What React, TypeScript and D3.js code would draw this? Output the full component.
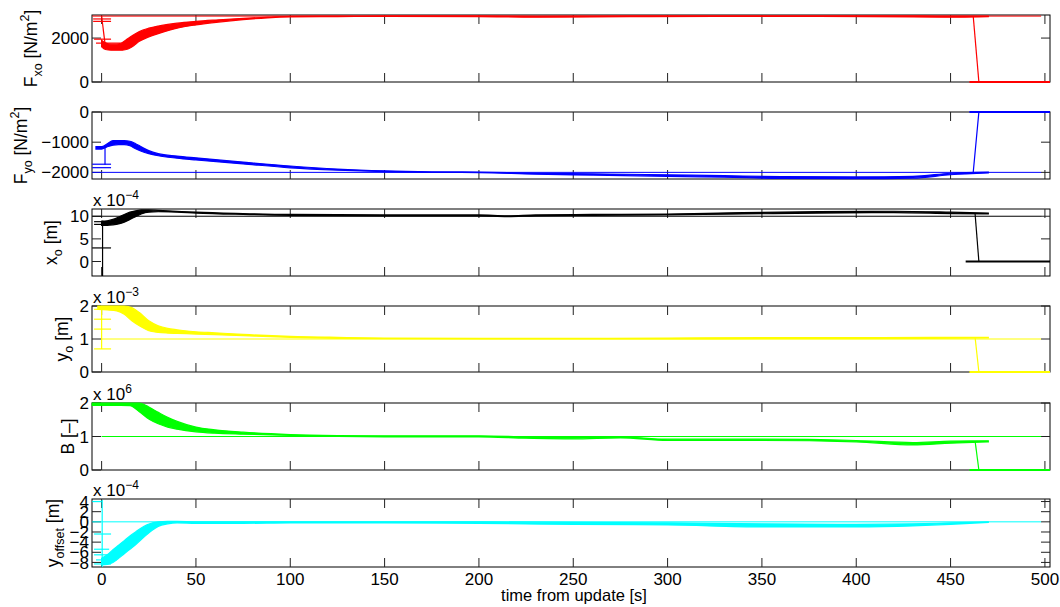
import React, { useEffect, useRef } from "react";
import * as d3 from "d3";

// ---- data ----
const xTicks = [0, 50, 100, 150, 200, 250, 300, 350, 400, 450, 500];

// F_xo [N/m^2]
const fxoT = [0, 2, 5, 8, 11, 14, 17, 20, 25, 30, 40, 50, 62, 75, 88, 100, 125, 150, 200, 230, 260, 290, 330, 380, 430, 455, 470];
const fxoHi = [1900, 1780, 1720, 1720, 1800, 1980, 2150, 2300, 2450, 2550, 2680, 2760, 2830, 2900, 2950, 2990, 3000, 3010, 3010, 2990, 3000, 3010, 3010, 3010, 3010, 3000, 3000];
const fxoLo = [1600, 1480, 1450, 1450, 1450, 1500, 1650, 1850, 2050, 2200, 2450, 2600, 2730, 2840, 2920, 2960, 2980, 2990, 2980, 2950, 2960, 2980, 2990, 2990, 2960, 2950, 2970];
const fxoStart = [[0, 3000], [1.8, 1750]];
const fxoDashes = [[-4.5, 5, 2870], [-4.5, 5, 2760], [-4, 5, 1950], [-3, 10, 1770]];
const fxoDrop = [[462, 3000], [465, 0]];
const fxoTail = [[460, 0], [502.7, 0]];

// F_yo [N/m^2]
const fyoT = [-3, 0, 3, 6, 9, 12, 15, 18, 21, 25, 30, 40, 50, 75, 100, 125, 150, 175, 200, 230, 260, 300, 330, 360, 400, 430, 450, 470];
const fyoHi = [-1150, -1150, -1050, -950, -950, -950, -970, -1050, -1150, -1280, -1380, -1460, -1520, -1660, -1790, -1890, -1950, -1980, -1990, -2030, -2050, -2080, -2110, -2140, -2150, -2130, -2030, -1990];
const fyoLo = [-1230, -1230, -1150, -1100, -1080, -1080, -1120, -1220, -1300, -1380, -1450, -1530, -1590, -1720, -1850, -1930, -1980, -2000, -2010, -2060, -2090, -2130, -2160, -2200, -2210, -2190, -2080, -2020];
const fyoStart = [[1.8, -1750], [1.8, -1150]];
const fyoDashes = [[-5, 5, -1730], [-5, 5, -1845]];
const fyoDrop = [[462, -2000], [465, 0]];
const fyoTail = [[460, 0], [502.7, 0]];

// x_o [m] (x 1e-4)
const xoT = [0, 3, 6, 9, 12, 15, 18, 21, 25, 30, 40, 50, 75, 100, 150, 200, 215, 230, 260, 300, 340, 380, 420, 450, 470];
const xoHi = [8.9, 9.0, 9.3, 9.8, 10.4, 10.9, 11.2, 11.4, 11.4, 11.3, 11.1, 10.9, 10.6, 10.4, 10.3, 10.3, 10.1, 10.3, 10.4, 10.5, 10.8, 11.0, 11.1, 10.9, 10.7];
const xoLo = [8.0, 8.0, 8.1, 8.3, 8.7, 9.3, 9.9, 10.5, 10.9, 11.0, 10.9, 10.7, 10.4, 10.2, 10.1, 10.1, 9.9, 10.1, 10.2, 10.3, 10.5, 10.7, 10.8, 10.6, 10.5];
const xoStart = [[0.5, -3.2], [0.5, 9.0]];
const xoDashes = [[-5, 5, 3.0], [-4, 5, 8.8], [-4, 5, 8.2]];
const xoDrop = [[463, 10.5], [465, 0]];
const xoTail = [[458, 0], [502.7, 0]];

// y_o [m] (x 1e-3)
const yoT = [-2, 3, 8, 12, 16, 20, 25, 30, 35, 40, 50, 60, 75, 100, 125, 150, 200, 250, 300, 350, 400, 440, 470];
const yoHi = [2.0, 2.0, 2.0, 2.0, 1.95, 1.8, 1.55, 1.4, 1.32, 1.28, 1.22, 1.19, 1.14, 1.08, 1.05, 1.03, 1.02, 1.02, 1.03, 1.04, 1.04, 1.05, 1.05];
const yoLo = [1.9, 1.88, 1.85, 1.75, 1.55, 1.4, 1.25, 1.2, 1.18, 1.17, 1.15, 1.13, 1.1, 1.05, 1.02, 1.01, 1.0, 1.0, 1.0, 1.01, 1.01, 1.02, 1.03];
const yoStart = [[0, 0.7], [0, 2.0]];
const yoDashes = [[-4, 5, 1.9], [-4, 5, 1.6], [-4, 5, 1.3], [-4, 5, 0.7]];
const yoDrop = [[463, 1.05], [465, 0]];
const yoTail = [[460, 0], [502.7, 0]];

// B [-] (x 1e6)
const bT = [-5, 5, 10, 15, 20, 25, 30, 35, 40, 50, 60, 75, 100, 125, 150, 200, 225, 250, 275, 300, 350, 400, 430, 450, 470];
const bHi = [2.0, 2.0, 2.0, 2.0, 2.0, 1.88, 1.72, 1.57, 1.45, 1.28, 1.2, 1.13, 1.06, 1.03, 1.02, 1.02, 0.99, 0.97, 0.99, 0.92, 0.92, 0.88, 0.82, 0.86, 0.87];
const bLo = [1.93, 1.93, 1.93, 1.92, 1.74, 1.52, 1.38, 1.28, 1.22, 1.14, 1.1, 1.07, 1.03, 1.0, 0.99, 0.99, 0.95, 0.93, 0.96, 0.88, 0.88, 0.84, 0.75, 0.8, 0.84];
const bStart = [[0, 1.93], [0, 2.0]];
const bDashes = [[-5, 5, 1.95]];
const bDrop = [[463, 0.86], [465, 0]];
const bTail = [[460, 0], [502.7, 0]];

// y_offset [m] (x 1e-4)
const yoffT = [0, 3, 6, 9, 12, 15, 18, 21, 24, 27, 30, 35, 40, 50, 75, 100, 150, 200, 250, 300, 350, 400, 430, 450, 470];
const yoffHi = [-7.2, -6.5, -5.5, -4.6, -3.7, -2.8, -2.0, -1.2, -0.6, -0.2, 0.0, 0.1, 0.1, 0.0, 0.0, 0.0, 0.0, 0.0, -0.1, -0.2, -0.4, -0.5, -0.4, -0.2, 0.0];
const yoffLo = [-8.5, -8.4, -8.0, -7.2, -6.3, -5.4, -4.5, -3.5, -2.5, -1.6, -0.9, -0.4, -0.2, -0.3, -0.3, -0.2, -0.2, -0.3, -0.5, -0.6, -1.0, -1.0, -0.8, -0.5, -0.1];
const yoffStart = [[0.3, 4.3], [0.3, -8.9]];
const yoffDashes = [[-5, 0, 4.0], [-4, 5, -2.4], [-4, 4, -5.4], [-4, 6, -6.5], [-3, 8, -7.5], [-4, 5, -8.3]];

const panels = [
  { color: "#ff0000", top: 15, bottom: 82, domain: [0, 3050], ticks: [0, 2000], labels: ["0", "2000"],
    t: fxoT, hi: fxoHi, lo: fxoLo, ref: 3000, refFrom: -5, start: fxoStart, dashes: fxoDashes, drop: fxoDrop, tail: fxoTail,
    exp: null, label: [["F", 0], ["xo", 1], [" [N/m", 0], ["2", 2], ["]", 0]], labelX: 37 },
  { color: "#0000ff", top: 112, bottom: 179, domain: [-2220, 0], ticks: [-2000, -1000, 0], labels: ["\u22122000", "\u22121000", "0"],
    t: fyoT, hi: fyoHi, lo: fyoLo, ref: -2000, refFrom: -5, start: fyoStart, dashes: fyoDashes, drop: fyoDrop, tail: fyoTail,
    exp: null, label: [["F", 0], ["yo", 1], [" [N/m", 0], ["2", 2], ["]", 0]], labelX: 27 },
  { color: "#000000", top: 209, bottom: 276, domain: [-3.2, 11.6], ticks: [0, 5, 10], labels: ["0", "5", "10"],
    t: xoT, hi: xoHi, lo: xoLo, ref: 10, refFrom: -5, start: xoStart, dashes: xoDashes, drop: xoDrop, tail: xoTail,
    exp: "\u22124", label: [["x", 0], ["o", 1], [" [m]", 0]], labelX: 56.5 },
  { color: "#ffff00", top: 306, bottom: 372, domain: [0, 2], ticks: [0, 1, 2], labels: ["0", "1", "2"],
    t: yoT, hi: yoHi, lo: yoLo, ref: 1, refFrom: 0, start: yoStart, dashes: yoDashes, drop: yoDrop, tail: yoTail,
    exp: "\u22123", label: [["y", 0], ["o", 1], [" [m]", 0]], labelX: 67.5 },
  { color: "#00ff00", top: 403, bottom: 470, domain: [0, 2], ticks: [0, 1, 2], labels: ["0", "1", "2"],
    t: bT, hi: bHi, lo: bLo, ref: 1, refFrom: 0, start: bStart, dashes: bDashes, drop: bDrop, tail: bTail,
    exp: "6", label: [["B [\u2013]", 0]], labelX: 73.5 },
  { color: "#00ffff", top: 499, bottom: 567, domain: [-8.9, 4.5], ticks: [-8, -6, -4, -2, 0, 2, 4], labels: ["\u22128", "\u22126", "\u22124", "\u22122", "0", "2", "4"],
    t: yoffT, hi: yoffHi, lo: yoffLo, ref: 0, refFrom: -5, start: yoffStart, dashes: yoffDashes, drop: null, tail: null,
    exp: "\u22124", label: [["y", 0], ["offset", 1], [" [m]", 0]], labelX: 58.5 },
];

const W = 1060;
const H = 607;
const left = 92;
const right = 1050;
const tickLen = 9;
const fs = 17;
const font = "'Liberation Sans', Arial, Helvetica, sans-serif";

export default function App() {
  const ref = useRef<SVGSVGElement>(null);

  useEffect(() => {
    const svg = d3.select(ref.current);
    svg.selectAll("*").remove();
    const x = d3.scaleLinear().domain([-5.1, 502.7]).range([left, right]);

    panels.forEach((p, i) => {
      const y = d3.scaleLinear().domain(p.domain).range([p.bottom, p.top]);
      const g = svg.append("g");

      // axes box
      g.append("rect").attr("x", left).attr("y", p.top).attr("width", right - left).attr("height", p.bottom - p.top)
        .attr("fill", "white").attr("stroke", "#000").attr("stroke-width", 1);

      // x ticks, top & bottom, inward
      xTicks.forEach(t => {
        g.append("line").attr("x1", x(t)).attr("x2", x(t)).attr("y1", p.bottom).attr("y2", p.bottom - tickLen).attr("stroke", "#222");
        g.append("line").attr("x1", x(t)).attr("x2", x(t)).attr("y1", p.top).attr("y2", p.top + tickLen).attr("stroke", "#222");
      });
      // y ticks, left & right
      p.ticks.forEach((v, k) => {
        g.append("line").attr("x1", left).attr("x2", left + tickLen).attr("y1", y(v)).attr("y2", y(v)).attr("stroke", "#222");
        g.append("line").attr("x1", right).attr("x2", right - tickLen).attr("y1", y(v)).attr("y2", y(v)).attr("stroke", "#222");
        g.append("text").attr("x", left - 3).attr("y", y(v)).attr("dy", "0.36em").attr("text-anchor", "end")
          .attr("font-family", font).attr("font-size", fs).text(p.labels[k]);
      });

      // data
      const clipId = "clip" + i;
      g.append("clipPath").attr("id", clipId).append("rect")
        .attr("x", left - 1).attr("y", p.top - 1).attr("width", right - left + 2).attr("height", p.bottom - p.top + 2);
      const d = g.append("g").attr("clip-path", `url(#${clipId})`);

      const idx = d3.range(p.t.length);
      const area = d3.area<number>().x(k => x(p.t[k])).y0(k => y(p.lo[k])).y1(k => y(p.hi[k])).curve(d3.curveMonotoneX);
      d.append("path").attr("d", area(idx)).attr("fill", p.color).attr("stroke", p.color).attr("stroke-width", 1.2);

      const line = d3.line<number[]>().x(q => x(q[0])).y(q => y(q[1]));
      d.append("path").attr("d", line([[p.refFrom, p.ref], [498, p.ref]])).attr("stroke", p.color).attr("stroke-width", 1).attr("fill", "none");
      d.append("path").attr("d", line(p.start)).attr("stroke", p.color).attr("stroke-width", 1.2).attr("fill", "none");
      p.dashes.forEach(s => {
        d.append("path").attr("d", line([[s[0], s[2]], [s[1], s[2]]])).attr("stroke", p.color).attr("stroke-width", 1.2).attr("fill", "none");
      });
      if (p.drop) d.append("path").attr("d", line(p.drop)).attr("stroke", p.color).attr("stroke-width", 1.2).attr("fill", "none");
      if (p.tail) d.append("path").attr("d", line(p.tail)).attr("stroke", p.color).attr("stroke-width", 2).attr("fill", "none");

      // exponent label
      if (p.exp) {
        const t = g.append("text").attr("x", left + 1).attr("y", p.top - 3).attr("font-family", font).attr("font-size", fs);
        t.append("tspan").text("x 10");
        t.append("tspan").attr("dy", -7).attr("font-size", 12).text(p.exp);
      }

      // y label (rotated)
      const yc = (p.top + p.bottom) / 2;
      const lab = g.append("text").attr("transform", `translate(${p.labelX},${yc}) rotate(-90)`)
        .attr("text-anchor", "middle").attr("font-family", font).attr("font-size", 17.5);
      let shift = 0;
      p.label.forEach(([s, kind]) => {
        const target = kind === 1 ? 5 : kind === 2 ? -8 : 0;
        lab.append("tspan").attr("dy", target - shift).attr("font-size", kind === 0 ? 17.5 : 12.5).text(s as string);
        shift = target;
      });
    });

    // bottom x tick labels
    const last = panels[panels.length - 1];
    xTicks.forEach(t => {
      svg.append("text").attr("x", x(t)).attr("y", last.bottom + 18).attr("text-anchor", "middle")
        .attr("font-family", font).attr("font-size", fs).text(t);
    });
    svg.append("text").attr("x", (left + right) / 2 + 3).attr("y", 601).attr("text-anchor", "middle")
      .attr("font-family", font).attr("font-size", 16.5).text("time from update [s]");
  }, []);

  return (
    <svg ref={ref} width={W} height={H} style={{ position: "absolute", left: 0, top: 0, background: "white" }} />
  );
}
